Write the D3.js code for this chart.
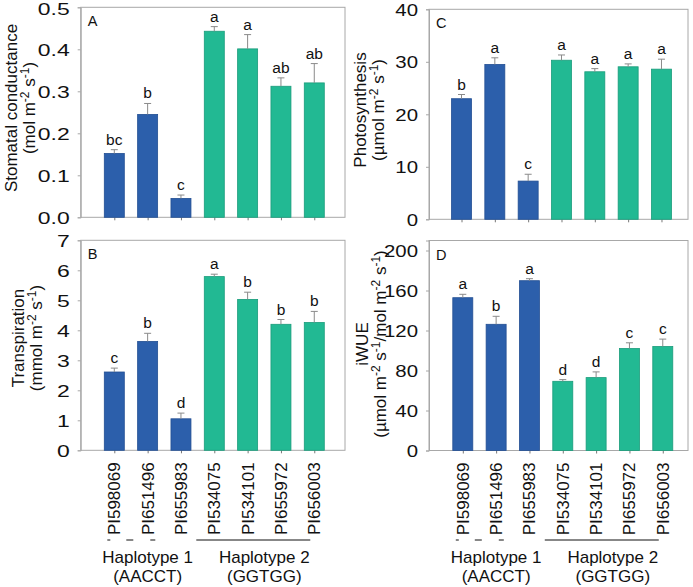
<!DOCTYPE html>
<html><head><meta charset="utf-8">
<script src="https://cdn.jsdelivr.net/npm/d3@7"></script>
<style>
html,body{margin:0;padding:0;background:#fff;}
svg{display:block;font-family:"Liberation Sans",Arial,sans-serif;}
</style></head>
<body><svg id="chart" width="693" height="587"></svg>
<script>
// ---------------- data ----------------
const categories = ["PI598069","PI651496","PI655983","PI534075","PI534101","PI655972","PI656003"];
const haplotypeOf = [1,1,1,2,2,2,2];
const groupNames = ["Haplotype 1","Haplotype 2"];
const groupAlleles = ["(AACCT)","(GGTGG)"];

const condMean = [0.152,0.245,0.045,0.443,0.401,0.312,0.320];
const condSE   = [0.009,0.026,0.008,0.011,0.034,0.020,0.046];
const condLetters = ["bc","b","c","a","a","ab","ab"];
const condTicks = [0.0,0.1,0.2,0.3,0.4,0.5];

const transMean = [2.61,3.63,1.05,5.79,5.03,4.20,4.26];
const transSE   = [0.13,0.27,0.19,0.08,0.24,0.16,0.37];
const transLetters = ["c","b","d","a","b","b","b"];
const transTicks = [0,1,2,3,4,5,6,7];

const photoMean = [22.97,29.5,7.28,30.3,28.1,29.05,28.6];
const photoSE   = [0.8,1.26,1.3,1.0,0.6,0.55,1.9];
const photoLetters = ["b","a","c","a","a","a","a"];
const photoTicks = [0,10,20,30,40];

const wueMean = [152.8,126.2,169.8,69.2,72.9,102,104];
const wueSE   = [3.4,8.0,2.0,1.7,5.7,5.7,7.4];
const wueLetters = ["a","b","a","d","d","c","c"];
const wueTicks = [0,40,80,120,160,200];

// ---------------- layout ----------------
const svg = d3.select("#chart");
const BLUE = "#2c5fab", BLUE_EDGE = "#234f93";
const GREEN = "#22b993", GREEN_EDGE = "#1a9c7b";
const FRAME = "#a8a8a8";

const panels = [
  {id:"A", mean:condMean, se:condSE, letters:condLetters, ticks:condTicks, max:0.5, fmt:d3.format(".1f"),
   left:80.7, right:345, top:7.3, bottom:217.3, first:114.3,
   title:["Stomatal conductance", [["(mol m",0],["-2",1],[" s",0],["-1",1],[")",0]]], tx:[17,35], tcy:108, labelScale:1.35},
  {id:"B", mean:transMean, se:transSE, letters:transLetters, ticks:transTicks, max:7, fmt:d3.format("d"),
   left:80.7, right:345, top:240.3, bottom:450.3, first:114.3,
   title:["Transpiration", [["(mmol m",0],["-2",1],[" s",0],["-1",1],[")",0]]], tx:[24,42], tcy:338, labelScale:1.35},
  {id:"C", mean:photoMean, se:photoSE, letters:photoLetters, ticks:photoTicks, max:40, fmt:d3.format("d"),
   left:429, right:688, top:9.3, bottom:219.3, first:461.5,
   title:["Photosynthesis", [["(\u00b5mol m",0],["-2",1],[" s",0],["-1",1],[")",0]]], tx:[366,384], tcy:110, labelScale:1.2},
  {id:"D", mean:wueMean, se:wueSE, letters:wueLetters, ticks:wueTicks, max:210, fmt:d3.format("d"),
   left:429, right:688, top:240.5, bottom:450.5, first:462.8,
   title:["iWUE", [["(\u00b5mol m",0],["-2",1],[" s",0],["-1",1],["/mol m",0],["-2",1],[" s",0],["-1",1],[")",0]]], tx:[368,386], tcy:344, labelScale:1.2}
];
const STEP = 33.33, BARW = 20;

panels.forEach(p => {
  const g = svg.append("g");
  const x = d3.scalePoint().domain(categories).range([p.first, p.first + STEP*(categories.length-1)]);
  const y = d3.scaleLinear().domain([0, p.max]).range([p.bottom, p.top]);

  // frame
  g.append("rect").attr("x", p.left).attr("y", p.top)
    .attr("width", p.right - p.left).attr("height", p.bottom - p.top)
    .attr("fill", "none").attr("stroke", FRAME).attr("stroke-width", 1);

  // y axis
  const ya = g.append("g").attr("transform", `translate(${p.left},0)`)
    .call(d3.axisLeft(y).tickValues(p.ticks).tickFormat(p.fmt).tickSize(3).tickPadding(8));
  ya.select(".domain").attr("stroke", FRAME);
  ya.selectAll(".tick line").attr("stroke", FRAME);
  ya.selectAll(".tick text").attr("font-size", 17).attr("fill", "#111")
    .attr("dy", "0.34em")
    .attr("font-family", "Liberation Sans, Arial, sans-serif")
    .each(function(){
      const t = d3.select(this);
      const xx = +t.attr("x");
      t.attr("x", xx / p.labelScale).attr("transform", `scale(${p.labelScale},1)`);
    });
  // keep the top label of panel A fully inside the page
  if (p.id === "A") ya.selectAll(".tick text").filter(d => d === p.max).attr("dy", "0.42em");

  // x axis
  const xa = g.append("g").attr("transform", `translate(0,${p.bottom})`)
    .call(d3.axisBottom(x).tickSize(3).tickFormat(""));
  xa.select(".domain").remove();
  xa.selectAll(".tick line").attr("stroke", "#777");

  // bars
  const idx = d3.range(categories.length);
  g.selectAll("rect.bar").data(idx).join("rect").attr("class", "bar")
    .attr("x", i => x(categories[i]) - BARW/2)
    .attr("y", i => y(p.mean[i]))
    .attr("width", BARW)
    .attr("height", i => y(0) - y(p.mean[i]))
    .attr("fill", i => haplotypeOf[i] === 1 ? BLUE : GREEN)
    .attr("stroke", i => haplotypeOf[i] === 1 ? BLUE_EDGE : GREEN_EDGE)
    .attr("stroke-width", 0.8);

  // error bars (upper only)
  g.selectAll("path.err").data(idx).join("path").attr("class", "err")
    .attr("d", i => {
      const cx = x(categories[i]), y0 = y(p.mean[i]), y1 = y(p.mean[i] + p.se[i]);
      return `M${cx},${y0}V${y1}M${cx-3.5},${y1}H${cx+3.5}`;
    })
    .attr("stroke", "#8a8a8a").attr("stroke-width", 1).attr("fill", "none");

  // significance letters
  g.selectAll("text.sig").data(idx).join("text").attr("class", "sig")
    .attr("x", i => x(categories[i]))
    .attr("y", i => y(p.mean[i] + p.se[i]) - 5)
    .attr("text-anchor", "middle").attr("font-size", 15.5).attr("fill", "#111")
    .text(i => p.letters[i]);

  // panel letter
  g.append("text").attr("x", p.left + 7).attr("y", p.top + 19)
    .attr("font-size", 14.5).attr("fill", "#111").text(p.id);

  // y title
  g.append("text").attr("transform", `translate(${p.tx[0]},${p.tcy}) rotate(-90)`)
    .attr("text-anchor", "middle").attr("font-size", 17).attr("fill", "#111").text(p.title[0]);
  const t2 = g.append("text").attr("transform", `translate(${p.tx[1]},${p.tcy}) rotate(-90)`)
    .attr("text-anchor", "middle").attr("font-size", 17).attr("fill", "#111");
  let prevSup = 0;
  p.title[1].forEach(([s, sup]) => {
    const dy = sup === prevSup ? 0 : (sup ? -6 : 6);
    t2.append("tspan").attr("dy", dy).attr("font-size", sup ? 12 : 17).text(s);
    prevSup = sup;
  });

  // category labels for bottom panels
  if (p.id === "B" || p.id === "D") {
    g.selectAll("text.cat").data(categories).join("text").attr("class", "cat")
      .attr("transform", d => `translate(${x(d) + 6},${p.bottom + 12}) rotate(-90)`)
      .attr("text-anchor", "end").attr("font-size", 17).attr("fill", "#111")
      .text(d => d);

    // group labels
    [1,2].forEach(h => {
      const members = categories.filter((c,i) => haplotypeOf[i] === h);
      const cx = (x(members[0]) + x(members[members.length-1])) / 2;
      g.append("text").attr("x", cx).attr("y", 563).attr("text-anchor", "middle")
        .attr("font-size", 17).attr("fill", "#111").text(groupNames[h-1]);
      g.append("text").attr("x", cx).attr("y", 582).attr("text-anchor", "middle")
        .attr("font-size", 17).attr("fill", "#111").text(groupAlleles[h-1]);
    });
    // group bracket line for haplotype 2
    const m2 = categories.filter((c,i) => haplotypeOf[i] === 2);
    g.append("line").attr("x1", x(m2[0]) - 18).attr("x2", x(m2[m2.length-1]) - 4)
      .attr("y1", 540).attr("y2", 540).attr("stroke", "#111").attr("stroke-width", 1);
    // broken bracket pieces for haplotype 1
    const m1 = categories.filter((c,i) => haplotypeOf[i] === 1);
    [[-4,-1],[15,22],[39,44]].forEach(([a,b]) => {
      g.append("line").attr("x1", x(m1[0]) + a - 3).attr("x2", x(m1[0]) + b - 3)
        .attr("y1", 540).attr("y2", 540).attr("stroke", "#111").attr("stroke-width", 1);
    });
  }
});
</script></body></html>
